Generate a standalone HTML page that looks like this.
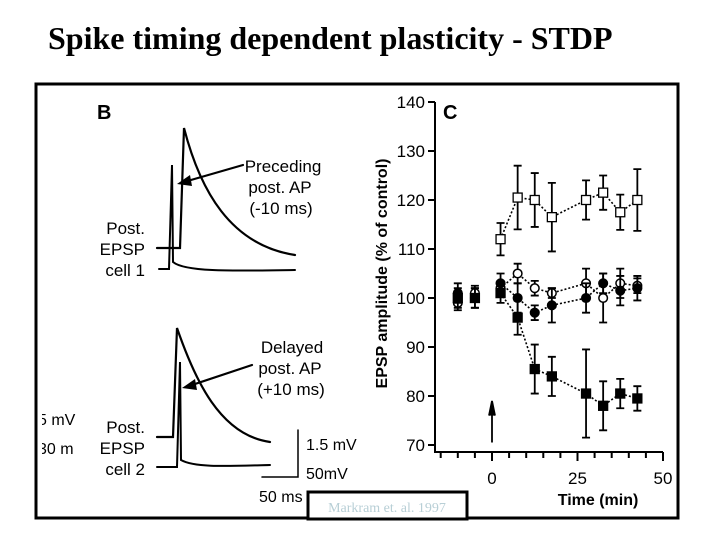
<!DOCTYPE html>
<html><head><meta charset="utf-8"><style>
html,body{margin:0;padding:0;background:#fff;}
svg{display:block;font-family:"Liberation Sans",Arial,sans-serif;}
</style></head><body>
<svg width="720" height="540" viewBox="0 0 720 540">
<text x="48" y="49" font-family="Liberation Serif,serif" font-weight="bold" font-size="32">Spike timing dependent plasticity - STDP</text>
<rect x="36" y="84" width="642" height="434" fill="none" stroke="#000" stroke-width="3"/>
<g stroke-linecap="round">
<text x="97" y="119" font-size="20" font-weight="bold">B</text>
<path d="M157,248 L180,248 L184,128 C200,190 230,245 295,255" fill="none" stroke="#000" stroke-width="2.2"/>
<path d="M159,269 L169,269 L172,165 L173,262 C185,272 230,271 295,270" fill="none" stroke="#000" stroke-width="2"/>
<line x1="243" y1="165" x2="184" y2="182" stroke="#000" stroke-width="2.2"/>
<polygon points="177,184 190,175 192,186" fill="#000"/>
<g font-size="17" text-anchor="middle">
<text x="283" y="172">Preceding</text><text x="280" y="193">post. AP</text><text x="281" y="214">(-10 ms)</text></g>
<g font-size="17" text-anchor="end">
<text x="145" y="234">Post.</text><text x="145" y="255">EPSP</text><text x="145" y="276">cell 1</text></g>
<path d="M157,437 L173,437 L177,328 C195,380 220,435 270,442" fill="none" stroke="#000" stroke-width="2.2"/>
<path d="M157,467 L177,467 L180,362 L181,460 C195,468 230,466 270,465" fill="none" stroke="#000" stroke-width="2"/>
<line x1="252" y1="365" x2="189" y2="386" stroke="#000" stroke-width="2.2"/>
<polygon points="182,388 195,379 197,390" fill="#000"/>
<g font-size="17" text-anchor="middle">
<text x="292" y="353">Delayed</text><text x="290" y="374">post. AP</text><text x="291" y="395">(+10 ms)</text></g>
<g font-size="17" text-anchor="end">
<text x="145" y="433">Post.</text><text x="145" y="454">EPSP</text><text x="145" y="475">cell 2</text></g>
<path d="M298,430 L298,477 L262,477" fill="none" stroke="#000" stroke-width="1.5"/>
<text x="306" y="450" font-size="16">1.5 mV</text>
<text x="306" y="479" font-size="16">50mV</text>
<text x="259" y="502" font-size="16">50 ms</text>
<text x="38" y="425" font-size="16">5 mV</text>
<text x="38" y="454" font-size="16">30 m</text>
<rect x="38" y="405" width="4" height="55" fill="#fff"/>
</g>
<rect x="308" y="492" width="159" height="27" fill="#fff" stroke="#000" stroke-width="3"/>
<text x="387" y="512" text-anchor="middle" font-family="Liberation Serif,serif" font-size="14" fill="#b8cfd6">Markram et. al. 1997</text>
<g id="chart"></g>
</svg>
<script>
const xs = [-10,-5,2.5,7.5,12.5,17.5,27.5,32.5,37.5,42.5];
const openSqX = [2.5,7.5,12.5,17.5,27.5,32.5,37.5,42.5];
const openSqY = [112,120.5,120,116.5,120,121.5,117.5,120];
const openSqE = [3.3,6.5,5.5,7,4,3.5,3.6,6.3];
const fillSqY = [100,100,101,96,85.5,84,80.5,78,80.5,79.5];
const fillSqE = [2,2,2,3.5,5,4,9,5,3,2.5];
const openCiY = [99,101,102,105,102,101,103,100,103,102.5];
const openCiE = [1.5,1.5,1.5,2,1.5,1,3,5,3,1.5];
const fillCiY = [101,100,103,100,97,98.5,100,103,101.5,102];
const fillCiE = [2,2,2,3,1.5,3.5,3,2,3,2.5];
const yTicks = [70,80,90,100,110,120,130,140];
const xTickLabels = [0,25,50];
const NS="http://www.w3.org/2000/svg";
const g=document.getElementById('chart');
const sx=v=>492+(v)*3.42, sy=v=>445-(v-70)*4.9;
function el(t,a,p){const e=document.createElementNS(NS,t);for(const k in a)e.setAttribute(k,a[k]);(p||g).appendChild(e);return e;}
let ax=el('path',{d:`M435,${sy(140)} L435,452 L${sx(50)},452`,fill:'none',stroke:'#000','stroke-width':2});


yTicks.forEach(v=>{
 el('line',{x1:428,x2:435,y1:sy(v),y2:sy(v),stroke:'#000','stroke-width':2});
 const t=el('text',{x:425,y:sy(v)+6,'text-anchor':'end','font-size':17});t.textContent=v;
 
 
});
for(let v=-15;v<=50;v+=5){el('line',{x1:sx(v),x2:sx(v),y1:452,y2:v%25===0?461:458,stroke:'#000','stroke-width':2});}
xTickLabels.forEach(v=>{const t=el('text',{x:sx(v),y:484,'text-anchor':'middle','font-size':17});t.textContent=v;
 
 });
let xt=el('text',{x:sx(31),y:505,'text-anchor':'middle','font-size':16,'font-weight':'bold'});xt.textContent='Time (min)';


let yt=el('text',{x:0,y:0,'text-anchor':'middle','font-size':16,'font-weight':'bold',transform:`translate(387,${sy(105)}) rotate(-90)`});yt.textContent='EPSP amplitude (% of control)';


let cl=el('text',{x:443,y:119,'font-size':20,'font-weight':'bold'});cl.textContent='C';


let ar=el('path',{d:`M${sx(0)},${sy(70.5)} L${sx(0)},${sy(78)} M${sx(0)-3},${sy(76)} L${sx(0)},${sy(79)} L${sx(0)+3},${sy(76)}`,stroke:'#000','stroke-width':1.8,fill:'#000'});


function series(X,Y,E,shape,filled,name,lineFrom){
 const sg=el('g',{});
 
 
 let d='';X.forEach((x,i)=>{if(i>=lineFrom)d+=(i===lineFrom?'M':'L')+sx(x)+','+sy(Y[i]);});
 el('path',{d,fill:'none',stroke:'#000','stroke-width':1.6,'stroke-dasharray':'2,2'},sg);
 X.forEach((x,i)=>{
  const cx=sx(x),cy=sy(Y[i]),t=sy(Y[i]+E[i]),b=sy(Y[i]-E[i]);
  el('path',{d:`M${cx},${t}L${cx},${b}M${cx-4},${t}L${cx+4},${t}M${cx-4},${b}L${cx+4},${b}`,stroke:'#000','stroke-width':1.8,fill:'none'},sg);
  let m;
  if(shape==='sq')m=el('rect',{x:cx-4.5,y:cy-4.5,width:9,height:9,fill:filled?'#000':'#fff',stroke:'#000','stroke-width':1.3},sg);
  else m=el('circle',{cx,cy,r:4.3,fill:filled?'#000':'#fff',stroke:'#000','stroke-width':1.5},sg);
  
  
 });
}
series(xs,openCiY,openCiE,'ci',false,'series-open-circles',2);
series(xs,fillCiY,fillCiE,'ci',true,'series-filled-circles',2);
series(xs,fillSqY,fillSqE,'sq',true,'series-filled-squares',2);
series(openSqX,openSqY,openSqE,'sq',false,'series-open-squares',0);
</script>
</body></html>
